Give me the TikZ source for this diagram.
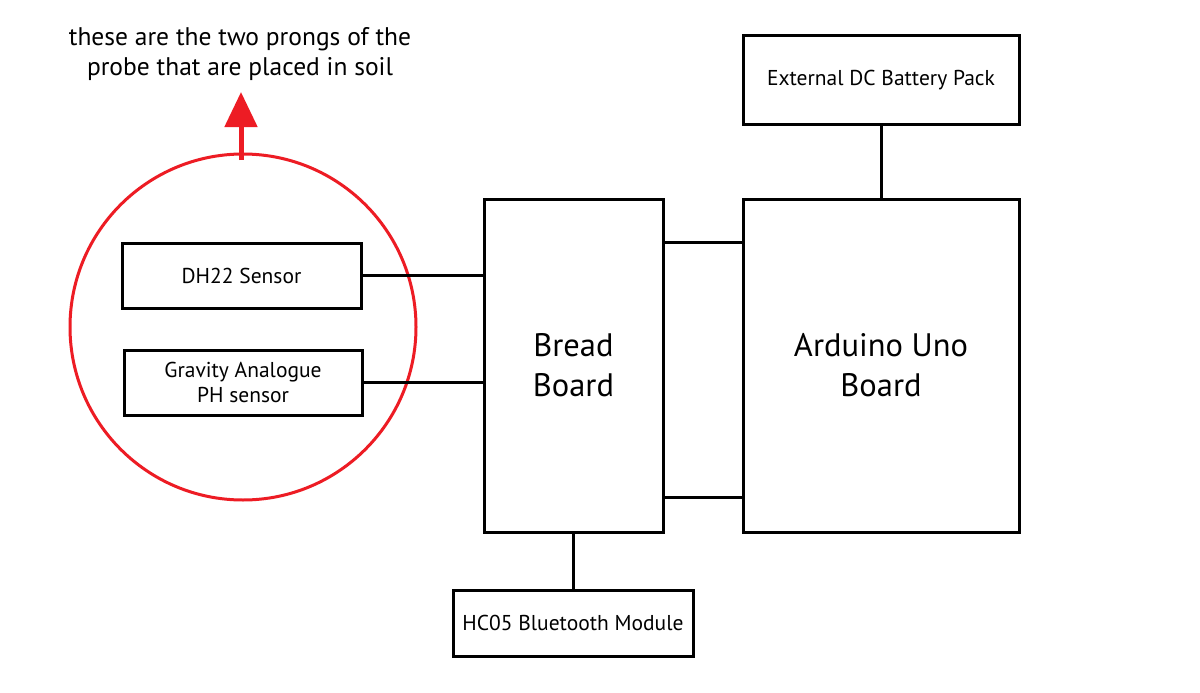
\documentclass[tikz,border=0pt]{standalone}
\usepackage{fontspec}
\setmainfont{PT Sans}
\usetikzlibrary{arrows.meta}

\tikzset{every picture/.style={line width=3pt}}
\tikzset{
  blockbox/.style={draw=black, line width=3pt, fill=white, align=center, inner sep=0pt},
  wire/.style={draw=black, line width=3pt},
  probering/.style={draw={rgb,255:red,237;green,28;blue,36}, line width=3pt, circle, inner sep=0pt}
}

\begin{document}
\begin{tikzpicture}[x=1pt,y=1pt,yscale=-1,xscale=1]
\path[fill=white] (0,0) rectangle (1200,693);

%Shape: Circle
\node [probering, minimum size=346pt] (probe) at (243,327) {};
%Red arrow out of the circle
\coordinate (tip) at (241,92);
\draw [color={rgb, 255:red, 237; green, 28; blue, 36}, line width=5pt, -{Triangle[width=32pt,length=35pt]}] (241,160) -- (tip);

% Text Node
\node [align=center, font=\fontsize{25.5}{30}\selectfont] (note) at (240,54) {these are the two prongs of the\\probe that are placed in soil};

%Shape: Rectangle
\node [blockbox, minimum width=239pt, minimum height=65pt, font=\fontsize{21.5}{26}\selectfont] (dht) at (241.5,275.5) {DH22 Sensor};
%Shape: Rectangle
\node [blockbox, minimum width=238pt, minimum height=65pt, font=\fontsize{21.5}{25}\selectfont] (ph) at (243,382.5) {Gravity Analogue\\PH sensor};
%Shape: Rectangle
\node [blockbox, minimum width=179pt, minimum height=333pt, font=\fontsize{32.5}{40}\selectfont] (bread) at (573.5,365.5) {Bread\\Board};
%Shape: Rectangle
\node [blockbox, minimum width=276pt, minimum height=333pt, font=\fontsize{32.5}{40}\selectfont] (ard) at (881,365.5) {Arduino Uno\\Board};
%Shape: Rectangle
\node [blockbox, minimum width=276pt, minimum height=88pt, font=\fontsize{21.5}{26}\selectfont] (bat) at (881,80) {External DC Battery Pack};
%Shape: Rectangle
\node [blockbox, minimum width=240pt, minimum height=66pt, font=\fontsize{21.5}{26}\selectfont] (hc) at (573,623) {HC05 Bluetooth Module};

%Straight Lines
\draw [wire] (dht.east) -- (dht.east -| bread.west);
\draw [wire] ([yshift=-0.5pt]ph.east) -- ([yshift=-0.5pt]ph.east -| bread.west);
\draw [wire] ([yshift=-123.5pt]bread.east) -- ([yshift=-123.5pt]bread.east -| ard.west);
\draw [wire] ([yshift=131.5pt]bread.east) -- ([yshift=131.5pt]bread.east -| ard.west);
\draw [wire] (bat.south) -- (ard.north);
\draw [wire] (bread.south) -- (bread.south |- hc.north);

\end{tikzpicture}
\end{document}
